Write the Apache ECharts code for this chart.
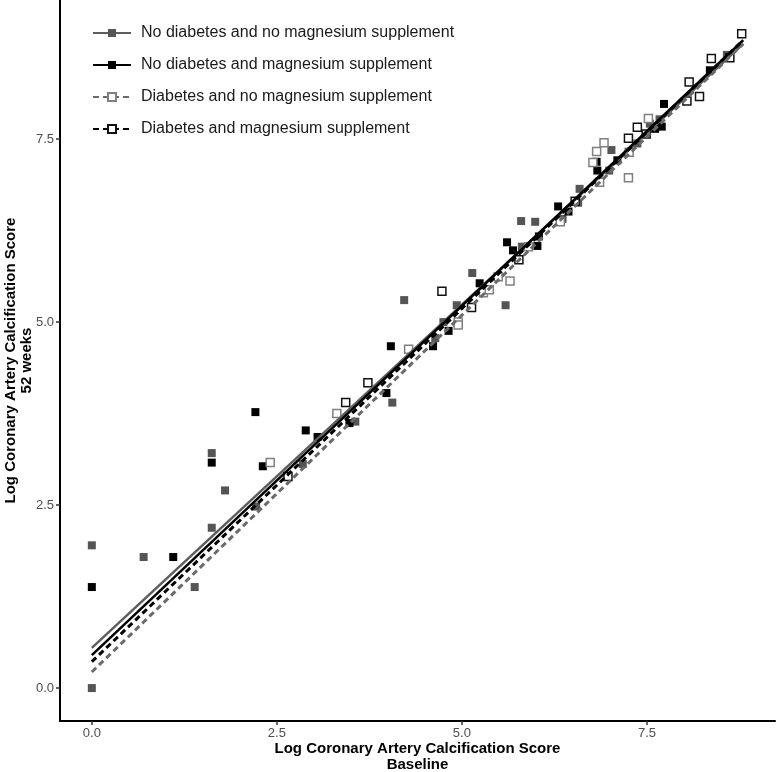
<!DOCTYPE html>
<html>
<head>
<meta charset="utf-8">
<script src="https://cdn.jsdelivr.net/npm/echarts@6/dist/echarts.min.js"></script>
<style>html,body{margin:0;padding:0;background:#fff}#c{width:777px;height:772px}</style>
</head>
<body>
<div id="c"></div>
<script>
const groupNames = [
  'No diabetes and no magnesium supplement',
  'No diabetes and magnesium supplement',
  'Diabetes and no magnesium supplement',
  'Diabetes and magnesium supplement'
];
const tickValues = [0, 2.5, 5, 7.5];

const noDiabNoMg = [[0,1.95],[0,0],[0.70,1.79],[1.39,1.38],[1.62,3.21],[1.62,2.19],[1.80,2.70],[2.22,2.48],[2.85,3.06],[3.56,3.64],[4.06,3.90],[4.22,5.30],[4.64,4.78],[4.75,5.00],[4.93,5.23],[5.14,5.67],[5.59,5.23],[5.80,6.38],[5.99,6.37],[5.81,6.03],[6.36,6.41],[6.59,6.82],[6.57,6.63],[6.99,7.07],[7.02,7.35],[7.37,7.44],[7.54,7.71],[7.67,7.77],[8.58,8.65]];
const noDiabMg = [[0,1.38],[1.10,1.79],[1.62,3.08],[2.21,3.77],[2.31,3.03],[2.89,3.52],[3.05,3.43],[3.48,3.62],[3.98,4.03],[4.04,4.67],[4.61,4.67],[4.82,4.88],[5.24,5.53],[5.61,6.09],[5.69,5.98],[6.04,6.17],[6.02,6.04],[6.30,6.58],[6.44,6.51],[6.82,7.19],[6.83,7.07],[7.10,7.21],[7.61,7.64],[7.70,7.67],[7.73,7.98],[8.35,8.44]];
const diabNoMg = [[2.41,3.08],[3.31,3.75],[4.28,4.63],[4.95,5.00],[4.95,4.96],[5.29,5.40],[5.37,5.44],[5.49,5.62],[5.65,5.56],[5.90,6.03],[6.33,6.37],[6.77,7.18],[6.82,7.33],[6.86,6.91],[6.92,7.45],[7.25,6.97],[7.26,7.32],[7.52,7.78]];
const diabMg = [[2.65,2.89],[3.43,3.90],[3.73,4.17],[4.73,5.42],[5.13,5.20],[5.77,5.85],[6.53,6.65],[7.25,7.51],[7.37,7.66],[7.49,7.57],[8.04,8.02],[8.07,8.28],[8.21,8.08],[8.37,8.60],[8.62,8.61],[8.78,8.94]];

// fitted lines: [x, y] at start and end
const fitNoDiabNoMg = [[0,0.55],[8.8,8.80]];
const fitNoDiabMg = [[0,0.45],[8.8,8.85]];
const fitDiabNoMg = [[0,0.22],[8.8,8.80]];
const fitDiabMg = [[0,0.36],[8.8,8.85]];

const pts = [noDiabNoMg, noDiabMg, diabNoMg, diabMg];
const fits = [fitNoDiabNoMg, fitNoDiabMg, fitDiabNoMg, fitDiabMg];

const styles = [
  {line:'#5e5e5e', type:'solid', width:2.5, fill:'#555555', border:'#555555', bw:0},
  {line:'#000000', type:'solid', width:2.5, fill:'#000000', border:'#000000', bw:0},
  {line:'#6a6a6a', type:[6,4], width:3, fill:'#ffffff', border:'#808080', bw:1.5},
  {line:'#000000', type:[6,4], width:3, fill:'#ffffff', border:'#111111', bw:1.5}
];

const series = [];
fits.forEach((f, i) => {
  const s = styles[i];
  series.push({
    name: groupNames[i], type: 'line', data: f, z: 3,
    symbol: 'rect', showSymbol: false, silent: true,
    lineStyle: {color: s.line, type: s.type, width: s.width},
    itemStyle: {color: s.fill, borderColor: s.border, borderWidth: s.bw},
    emphasis: {disabled: true}, animation: false
  });
});
pts.forEach((p, i) => {
  const s = styles[i];
  series.push({
    name: groupNames[i], type: 'scatter', data: p, z: 2,
    symbol: 'rect', symbolSize: 8,
    itemStyle: {color: s.fill, borderColor: s.border, borderWidth: s.bw, opacity: 1},
    emphasis: {disabled: true}, animation: false
  });
});

const font = 'Liberation Sans, Arial, sans-serif';
const chart = echarts.init(document.getElementById('c'), null, {renderer: 'canvas'});
chart.setOption({
  backgroundColor: '#ffffff',
  animation: false,
  grid: {left: 60, right: 2, top: 0, bottom: 51, containLabel: false, outerBoundsMode: 'none'},
  legend: {
    data: groupNames, orient: 'vertical', left: 92, top: 25, padding: 0,
    itemWidth: 38, itemHeight: 10, itemGap: 16,
    textStyle: {fontFamily: font, fontSize: 16, color: '#1a1a1a', padding: [0,0,0,5]}
  },
  xAxis: {
    type: 'value', min: -0.43, max: 9.23,
    name: 'Log Coronary Artery Calcification Score\nBaseline',
    nameLocation: 'middle', nameGap: 20, nameMoveOverlap: false,
    nameTextStyle: {fontFamily: font, fontSize: 15, fontWeight: 'bold', color: '#000', lineHeight: 16},
    axisLine: {onZero: false, lineStyle: {color: '#000', width: 2}},
    axisTick: {customValues: tickValues, length: 4, lineStyle: {color: '#333', width: 1.5}},
    axisLabel: {customValues: tickValues, formatter: v => v.toFixed(1), color: '#4d4d4d', fontSize: 13, margin: 6, fontFamily: font},
    splitLine: {show: false}
  },
  yAxis: {
    type: 'value', min: -0.45, max: 9.40,
    name: 'Log Coronary Artery Calcification Score\n52 weeks',
    nameLocation: 'middle', nameGap: 25, nameMoveOverlap: false,
    nameTextStyle: {fontFamily: font, fontSize: 15, fontWeight: 'bold', color: '#000', lineHeight: 16},
    axisLine: {onZero: false, lineStyle: {color: '#000', width: 2}},
    axisTick: {customValues: tickValues, length: 4, lineStyle: {color: '#333', width: 1.5}},
    axisLabel: {customValues: tickValues, formatter: v => v.toFixed(1), color: '#4d4d4d', fontSize: 13, margin: 6, fontFamily: font},
    splitLine: {show: false}
  },
  series: series
});
</script>
</body>
</html>
